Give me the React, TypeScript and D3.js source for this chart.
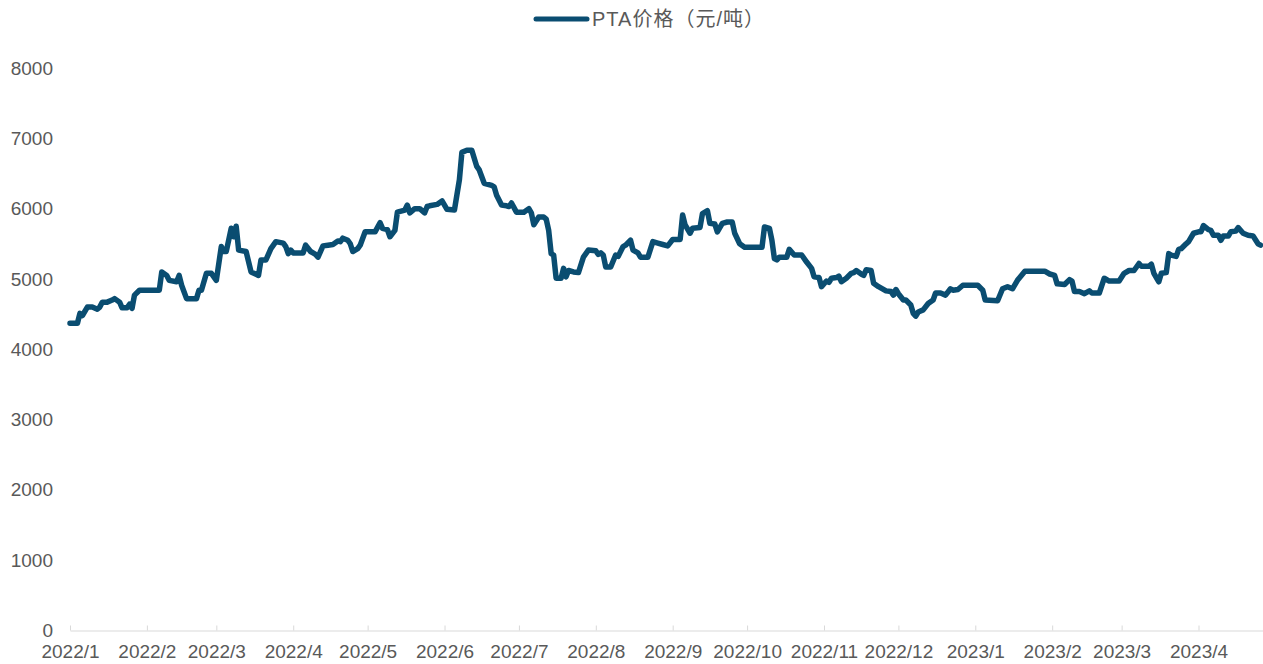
import React, { useEffect, useRef } from "react";
import * as d3 from "d3";

// PTA price, yuan per ton
const days2022 = [
  "01-01", "01-04", "01-05", "01-06", "01-08", "01-10", "01-12", "01-13", "01-14", "01-16",
  "01-18", "01-19", "01-21", "01-22", "01-24", "01-25", "01-26", "01-27", "01-29", "02-06",
  "02-07", "02-09", "02-10", "02-13", "02-14", "02-15", "02-17", "02-21", "02-22", "02-23",
  "02-25", "02-27", "03-01", "03-03", "03-04", "03-05", "03-07", "03-08", "03-09", "03-10",
  "03-13", "03-15", "03-18", "03-19", "03-21", "03-23", "03-25", "03-28", "03-29", "03-30",
  "03-31", "04-01", "04-05", "04-06", "04-08", "04-10", "04-11", "04-13", "04-15", "04-17",
  "04-19", "04-20", "04-21", "04-23", "04-24", "04-25", "04-27", "04-28", "04-30", "05-04",
  "05-06", "05-07", "05-09", "05-10", "05-12", "05-13", "05-16", "05-17", "05-18", "05-20",
  "05-22", "05-24", "05-25", "05-26", "05-29", "05-31", "06-01", "06-02", "06-05", "06-07",
  "06-08", "06-10", "06-12", "06-14", "06-15", "06-17", "06-20", "06-21", "06-22", "06-24",
  "06-26", "06-27", "06-28", "06-30", "07-03", "07-05", "07-06", "07-07", "07-09", "07-11",
  "07-12", "07-13", "07-14", "07-15", "07-16", "07-18", "07-19", "07-20", "07-21", "07-23",
  "07-25", "07-27", "07-29", "08-01", "08-02", "08-03", "08-04", "08-05", "08-07", "08-09",
  "08-10", "08-12", "08-13", "08-15", "08-16", "08-18", "08-19", "08-22", "08-24", "08-26",
  "08-28", "08-30", "09-01", "09-04", "09-05", "09-06", "09-08", "09-09", "09-12", "09-13",
  "09-15", "09-16", "09-18", "09-19", "09-21", "09-23", "09-25", "09-26", "09-28", "09-30",
  "10-07", "10-08", "10-10", "10-11", "10-12", "10-13", "10-14", "10-17", "10-18", "10-20",
  "10-23", "10-25", "10-27", "10-28", "10-30", "10-31", "11-02", "11-03", "11-04", "11-06",
  "11-07", "11-08", "11-10", "11-12", "11-13", "11-14", "11-16", "11-17", "11-18", "11-20",
  "11-21", "11-23", "11-26", "11-28", "11-29", "11-30", "12-01", "12-03", "12-04", "12-06",
  "12-07", "12-08", "12-09", "12-11", "12-13", "12-15", "12-16", "12-18", "12-20", "12-22",
  "12-23", "12-25", "12-27",
];
const prices2022 = [
  4370, 4370, 4510, 4480, 4600, 4600, 4570, 4600, 4670, 4670,
  4700, 4720, 4670, 4590, 4590, 4640, 4580, 4770, 4840, 4840,
  5100, 5050, 4980, 4960, 5050, 4910, 4720, 4720, 4840, 4840,
  5080, 5080, 4980, 5460, 5390, 5390, 5720, 5600, 5750, 5410,
  5390, 5100, 5050, 5270, 5270, 5430, 5530, 5510, 5460, 5360,
  5410, 5370, 5370, 5480, 5390, 5350, 5310, 5470, 5480, 5490,
  5540, 5530, 5580, 5550, 5500, 5390, 5430, 5480, 5670, 5670,
  5800, 5720, 5700, 5600, 5690, 5950, 5980, 6050, 5940, 6000,
  6000, 5940, 6030, 6040, 6060, 6110, 6050, 5990, 5980, 6410,
  6800, 6830, 6830, 6600, 6550, 6360, 6330, 6310, 6190, 6050,
  6040, 6030, 6080, 5950, 5950, 6000, 5940, 5770, 5880, 5880,
  5850, 5690, 5360, 5340, 5010, 5010, 5150, 5030, 5120, 5100,
  5090, 5310, 5410, 5400, 5350, 5370, 5340, 5170, 5170, 5340,
  5320, 5460, 5480, 5550, 5410, 5370, 5310, 5310, 5530, 5510,
  5490, 5470, 5560, 5560, 5910, 5770, 5650, 5720, 5730, 5930,
  5970, 5790, 5780, 5670, 5790, 5810, 5810, 5650, 5500, 5450,
  5450, 5740, 5720, 5550, 5290, 5270, 5310, 5310, 5420, 5340,
  5340, 5240, 5150, 5030, 5020, 4890, 4970, 4950, 5010, 5020,
  5040, 4960, 5010, 5080, 5090, 5120, 5070, 5050, 5130, 5120,
  4940, 4890, 4830, 4820, 4770, 4850, 4790, 4700, 4700, 4630,
  4510, 4470, 4530, 4560, 4650, 4700, 4800, 4800, 4770, 4860,
  4840, 4850, 4910,
];
const days2023 = [
  "01-02", "01-04", "01-05", "01-10", "01-12", "01-14", "01-16", "01-18", "01-21", "01-29",
  "01-31", "02-02", "02-03", "02-06", "02-08", "02-09", "02-10", "02-12", "02-14", "02-16",
  "02-17", "02-20", "02-22", "02-24", "02-28", "03-02", "03-04", "03-06", "03-08", "03-09",
  "03-12", "03-13", "03-14", "03-16", "03-17", "03-19", "03-20", "03-21", "03-23", "03-24",
  "03-25", "03-27", "03-28", "03-30", "04-01", "04-02", "04-03", "04-05", "04-06", "04-07",
  "04-09", "04-10", "04-11", "04-13", "04-14", "04-16", "04-17", "04-19", "04-21", "04-23",
  "04-25", "04-26",
];
const prices2023 = [
  4910, 4840, 4700, 4690, 4860, 4890, 4860, 4980, 5110, 5110,
  5070, 5050, 4930, 4920, 4990, 4970, 4820, 4820, 4790, 4830,
  4800, 4800, 5010, 4970, 4970, 5080, 5120, 5120, 5220, 5180,
  5180, 5210, 5080, 4960, 5080, 5090, 5360, 5340, 5320, 5420,
  5430, 5500, 5530, 5650, 5670, 5670, 5760, 5700, 5690, 5620,
  5620, 5550, 5610, 5610, 5670, 5680, 5730, 5650, 5620, 5610,
  5500, 5480,
];

const monthLabels = [
  "2022/1", "2022/2", "2022/3", "2022/4", "2022/5", "2022/6", "2022/7", "2022/8",
  "2022/9", "2022/10", "2022/11", "2022/12", "2023/1", "2023/2", "2023/3", "2023/4",
];
const yTicks = [0, 1000, 2000, 3000, 4000, 5000, 6000, 7000, 8000];
const seriesName = "PTA价格（元/吨）";

const W = 1263;
const H = 664;
const FONT = "'Liberation Sans', Arial, 'Noto Sans CJK SC', sans-serif";
const LINE_COLOR = "#0a4d71";
const TEXT_COLOR = "#595959";

const parse = (year: number, md: string) => {
  const [m, d] = md.split("-").map(Number);
  return new Date(year, m - 1, d);
};
const parseMonth = (s: string) => {
  const [y, m] = s.split("/").map(Number);
  return new Date(y, m - 1, 1);
};

const points = [
  ...days2022.map((d, i) => ({ date: parse(2022, d), value: prices2022[i] })),
  ...days2023.map((d, i) => ({ date: parse(2023, d), value: prices2023[i] })),
];

function Chart() {
  const svgRef = useRef<SVGSVGElement>(null);

  useEffect(() => {
    const svg = d3.select(svgRef.current);
    svg.selectAll("*").remove();

    const x = d3
      .scaleTime()
      .domain([new Date(2022, 0, 1), new Date(2023, 3, 27)])
      .range([70, 1263]);
    const y = d3.scaleLinear().domain([0, 8000]).range([630.5, 68]);

    // y axis: labels only
    const yAxis = svg
      .append("g")
      .attr("transform", "translate(53,0)")
      .call(d3.axisLeft(y).tickValues(yTicks).tickSize(0).tickPadding(0).tickFormat(d3.format("d")));
    yAxis.select(".domain").remove();
    yAxis
      .selectAll("text")
      .style("font", `19px ${FONT}`)
      .attr("fill", TEXT_COLOR);

    // x axis with inward ticks
    const xAxis = svg
      .append("g")
      .attr("transform", "translate(0,630.5)")
      .call(
        d3
          .axisBottom(x)
          .tickValues(monthLabels.map(parseMonth))
          .tickSize(-5)
          .tickSizeOuter(0)
          .tickPadding(14)
          .tickFormat((d, i) => monthLabels[i])
      );
    xAxis.select(".domain").attr("stroke", "#d9d9d9");
    xAxis.selectAll(".tick line").attr("stroke", "#d9d9d9");
    xAxis
      .selectAll("text")
      .style("font", `19px ${FONT}`)
      .attr("fill", TEXT_COLOR);

    svg
      .append("path")
      .datum(points)
      .attr("fill", "none")
      .attr("stroke", LINE_COLOR)
      .attr("stroke-width", 5.5)
      .attr("stroke-linejoin", "round")
      .attr("stroke-linecap", "round")
      .attr(
        "d",
        d3
          .line<{ date: Date; value: number }>()
          .x((d) => x(d.date))
          .y((d) => y(d.value))
      );

    // legend
    const legend = svg.append("g");
    legend
      .append("line")
      .attr("x1", 536)
      .attr("x2", 587)
      .attr("y1", 19)
      .attr("y2", 19)
      .attr("stroke", LINE_COLOR)
      .attr("stroke-width", 5)
      .attr("stroke-linecap", "round");
    legend
      .append("text")
      .attr("x", 592)
      .attr("y", 26)
      .style("font", `20px ${FONT}`)
      .style("letter-spacing", "1px")
      .attr("fill", TEXT_COLOR)
      .text(seriesName);
  }, []);

  return (
    <svg
      ref={svgRef}
      width={W}
      height={H}
      style={{ position: "absolute", left: 0, top: 0, background: "#fff" }}
    />
  );
}

export default function App() {
  return <Chart />;
}
